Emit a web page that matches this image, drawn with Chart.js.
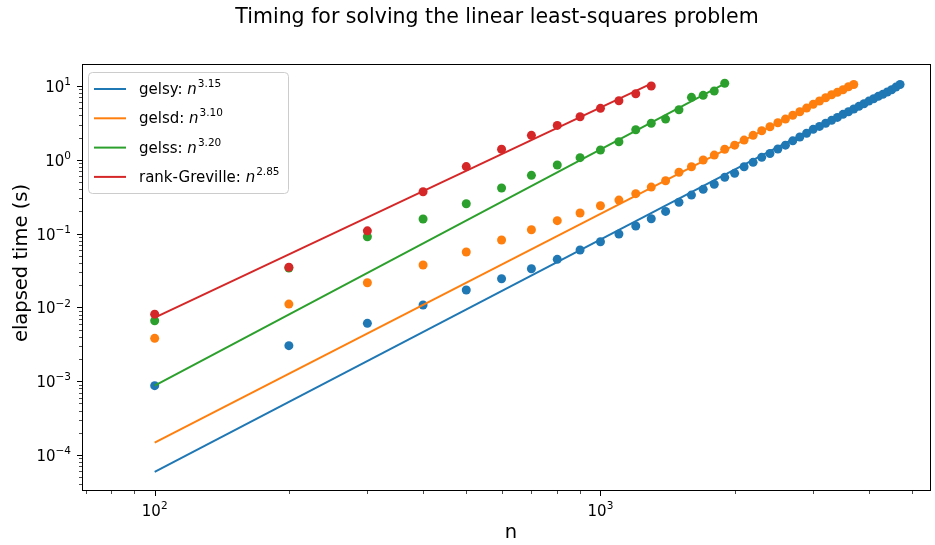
<!DOCTYPE html>
<html>
<head>
<meta charset="utf-8">
<script src="https://cdn.jsdelivr.net/npm/chart.js@4.4.0/dist/chart.umd.min.js"></script>
<style>
  html, body { margin: 0; padding: 0; background: #fff; }
  #wrap { width: 935px; height: 545px; position: relative; }
</style>
</head>
<body>
<div id="wrap"><canvas id="timing"></canvas></div>
<script>
// matrix sizes n (every method uses the leading part of this list)
const nValues = [100, 200, 300, 400, 500, 600, 700, 800, 900, 1000,
  1100, 1200, 1300, 1400, 1500, 1600, 1700, 1800, 1900, 2000,
  2100, 2200, 2300, 2400, 2500, 2600, 2700, 2800, 2900, 3000,
  3100, 3200, 3300, 3400, 3500, 3600, 3700, 3800, 3900, 4000,
  4100, 4200, 4300, 4400, 4500, 4600, 4700];

// measured times (s)
const gelsyTimes = [0.00087, 0.00303, 0.00608, 0.0108, 0.0172, 0.0245, 0.0334, 0.0448, 0.060, 0.0777,
  0.0989, 0.127, 0.159, 0.200, 0.266, 0.333, 0.398, 0.466, 0.579, 0.656,
  0.806, 0.925, 1.08, 1.22, 1.40, 1.58, 1.81, 2.04, 2.29, 2.59,
  2.84, 3.13, 3.43, 3.76, 4.14, 4.49, 4.88, 5.31, 5.76, 6.26,
  6.73, 7.25, 7.72, 8.30, 8.92, 9.69, 10.5];
const gelsdTimes = [0.00381, 0.0111, 0.0216, 0.0375, 0.0564, 0.0819, 0.113, 0.150, 0.190, 0.239,
  0.285, 0.348, 0.427, 0.521, 0.678, 0.806, 0.994, 1.16, 1.39, 1.58,
  1.85, 2.15, 2.48, 2.81, 3.18, 3.57, 4.01, 4.49, 5.03, 5.65,
  6.27, 6.94, 7.63, 8.22, 8.92, 9.79, 10.5];
const gelssTimes = [0.0066, 0.0342, 0.0908, 0.158, 0.254, 0.415, 0.617, 0.85, 1.07, 1.36,
  1.76, 2.56, 3.13, 3.57, 4.77, 7.03, 7.48, 8.56, 10.9];
const grevilleTimes = [0.0081, 0.035, 0.109, 0.37, 0.81, 1.39, 2.15, 2.93, 3.84, 4.99,
  6.32, 7.87, 10.0];

// fitted power laws, read at first and last n of each series
const gelsyFit = [5.9e-5, 10.9];
const gelsdFit = [1.47e-4, 10.7];
const gelssFit = [8.7e-4, 10.8];
const grevilleFit = [0.00726, 10.8];

const legendNames = ["gelsy", "gelsd", "gelss", "rank-Greville"];
const legendExps = ["3.15", "3.10", "3.20", "2.85"];
const colors = ["#1f77b4", "#ff7f0e", "#2ca02c", "#d62728"];

const xMajorTicks = [100, 1000];
const xTickExps = ["2", "3"];
const yMajorTicks = [1e-4, 1e-3, 1e-2, 1e-1, 1, 10];
const yTickExps = ["\u22124", "\u22123", "\u22122", "\u22121", "0", "1"];

const FONT = "'DejaVu Sans', sans-serif";

const allTimes = [gelsyTimes, gelsdTimes, gelssTimes, grevilleTimes];
const allFits = [gelsyFit, gelsdFit, gelssFit, grevilleFit];

const datasets = [];
allTimes.forEach((times, i) => {
  const ns = nValues.slice(0, times.length);
  datasets.push({
    label: legendNames[i] + " fit",
    data: [{ x: ns[0], y: allFits[i][0] }, { x: ns[ns.length - 1], y: allFits[i][1] }],
    showLine: true, borderColor: colors[i], borderWidth: 2, pointRadius: 0,
    order: 20 - i * 2
  });
  datasets.push({
    label: legendNames[i],
    data: ns.map((n, k) => ({ x: n, y: times[k] })),
    showLine: false, backgroundColor: colors[i], borderWidth: 0,
    pointRadius: 4.5, pointHoverRadius: 4.5,
    order: 19 - i * 2
  });
});

function drawPow(ctx, base, exp, x, yb, size, align) {
  ctx.font = `${size}px ${FONT}`;
  const wb = ctx.measureText(base).width;
  ctx.font = `${size * 0.7}px ${FONT}`;
  const we = ctx.measureText(exp).width;
  const start = align === "center" ? x - (wb + we) / 2 : x - (wb + we);
  ctx.textAlign = "left";
  ctx.font = `${size}px ${FONT}`;
  ctx.fillText(base, start, yb);
  ctx.font = `${size * 0.7}px ${FONT}`;
  ctx.fillText(exp, start + wb, yb - size * 0.45);
}

const decor = {
  id: "decor",
  afterDraw(chart) {
    const { ctx, chartArea: a, scales } = chart;
    const xs = scales.x, ys = scales.y;
    ctx.save();
    ctx.fillStyle = "#000";
    ctx.strokeStyle = "#000";
    ctx.textBaseline = "alphabetic";

    // ticks
    const tick = (x1, y1, x2, y2, w) => {
      ctx.lineWidth = w;
      ctx.beginPath(); ctx.moveTo(x1, y1); ctx.lineTo(x2, y2); ctx.stroke();
    };
    for (let d = 10; d <= 1000; d *= 10) {
      for (let m = 1; m <= 9; m++) {
        const v = d * m;
        if (v < xs.min || v > xs.max) continue;
        const px = Math.round(xs.getPixelForValue(v)) + 0.5;
        const major = xMajorTicks.includes(v);
        tick(px, a.bottom, px, a.bottom + (major ? 5 : 3), major ? 1 : 0.7);
      }
    }
    for (let d = 1e-5; d <= 10; d *= 10) {
      for (let m = 1; m <= 9; m++) {
        const v = d * m;
        if (v < ys.min || v > ys.max) continue;
        const py = Math.round(ys.getPixelForValue(v)) + 0.5;
        const major = m === 1;
        tick(a.left, py, a.left - (major ? 5 : 3), py, major ? 1 : 0.7);
      }
    }

    // frame
    ctx.lineWidth = 1;
    ctx.strokeRect(Math.round(a.left) + 0.5, Math.round(a.top) + 0.5,
      Math.round(a.right - a.left) - 1, Math.round(a.bottom - a.top) - 1);

    // tick labels
    xMajorTicks.forEach((v, i) => {
      drawPow(ctx, "10", xTickExps[i], xs.getPixelForValue(v), a.bottom + 25, 15, "center");
    });
    yMajorTicks.forEach((v, i) => {
      drawPow(ctx, "10", yTickExps[i], a.left - 11, ys.getPixelForValue(v) + 6, 15, "right");
    });

    // axis labels and title
    ctx.textAlign = "center";
    ctx.font = `19.5px ${FONT}`;
    ctx.fillText("n", 511, 538);
    ctx.save();
    ctx.translate(27, 263);
    ctx.rotate(-Math.PI / 2);
    ctx.fillText("elapsed time (s)", 0, 0);
    ctx.restore();
    ctx.font = `20.5px ${FONT}`;
    ctx.fillText("Timing for solving the linear least-squares problem", 497, 23);

    // legend
    const lx = 88, ly = 72, lw = 200, lh = 121;
    ctx.beginPath();
    ctx.roundRect(lx + 0.5, ly + 0.5, lw, lh, 4);
    ctx.fillStyle = "rgba(255,255,255,0.8)";
    ctx.fill();
    ctx.strokeStyle = "#cccccc";
    ctx.lineWidth = 1;
    ctx.stroke();
    legendNames.forEach((name, i) => {
      const cy = 89 + i * 29.3;
      ctx.strokeStyle = colors[i];
      ctx.lineWidth = 2;
      ctx.beginPath(); ctx.moveTo(94, cy); ctx.lineTo(126, cy); ctx.stroke();
      ctx.fillStyle = "#000";
      ctx.textAlign = "left";
      ctx.font = `15px ${FONT}`;
      const txt = name + ": ";
      ctx.fillText(txt, 139, cy + 5);
      let x = 139 + ctx.measureText(txt).width;
      ctx.font = `italic 15px ${FONT}`;
      ctx.fillText("n", x, cy + 5);
      x += ctx.measureText("n").width + 1;
      ctx.font = `10.5px ${FONT}`;
      ctx.fillText(legendExps[i], x, cy - 2);
    });
    ctx.restore();
  }
};

new Chart(document.getElementById("timing"), {
  type: "scatter",
  data: { datasets },
  options: {
    responsive: true, maintainAspectRatio: false, animation: false,
    layout: { padding: { left: 82, top: 64, right: 2, bottom: 54 } },
    plugins: { legend: { display: false }, tooltip: { enabled: false } },
    scales: {
      x: { type: "logarithmic", min: 68.7, max: 5500,
           afterFit: (s) => { s.height = 0; s.paddingLeft = 0; s.paddingRight = 0; },
           ticks: { display: false }, grid: { display: false }, border: { display: false } },
      y: { type: "logarithmic", min: 3.25e-5, max: 19.9,
           afterFit: (s) => { s.width = 0; s.paddingTop = 0; s.paddingBottom = 0; },
           ticks: { display: false }, grid: { display: false }, border: { display: false } }
    }
  },
  plugins: [decor]
});
</script>
</body>
</html>
